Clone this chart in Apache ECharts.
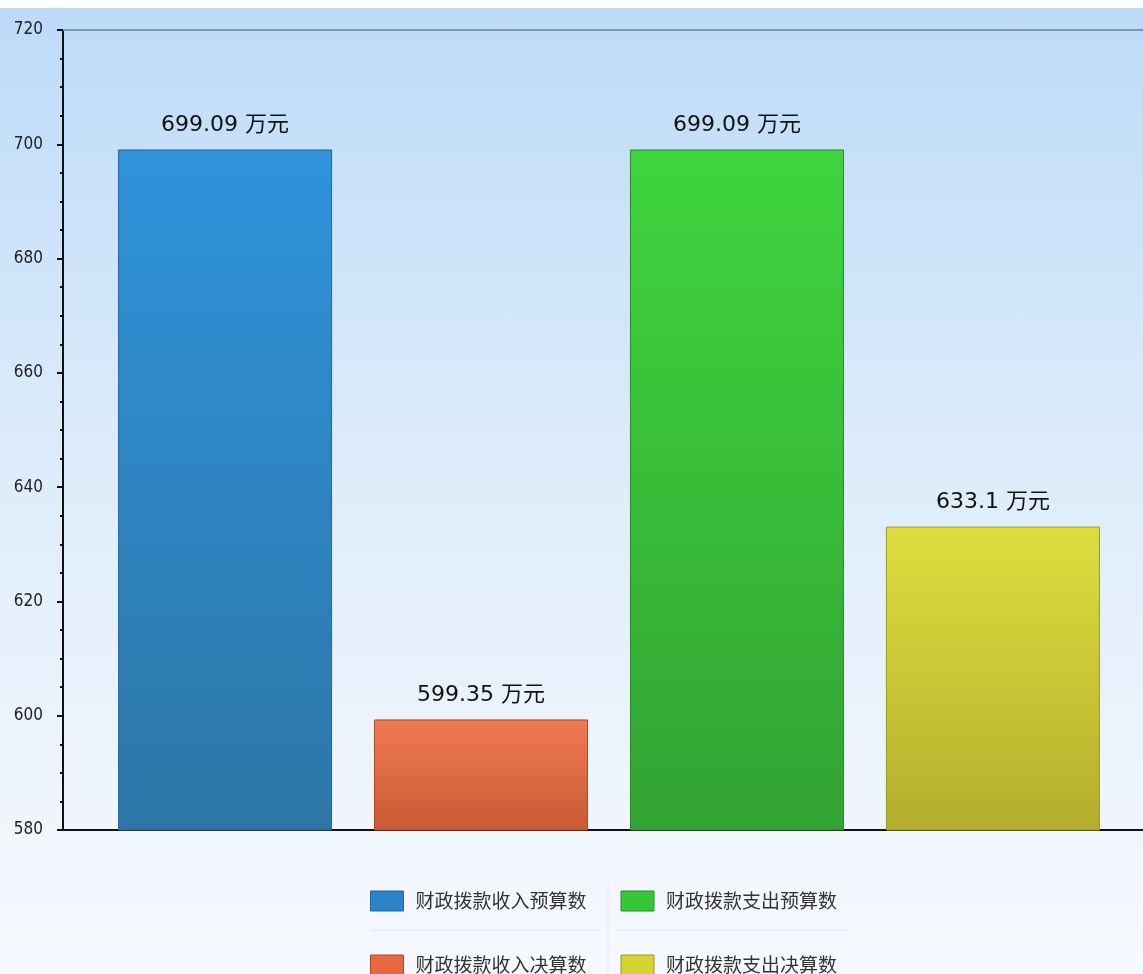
<!DOCTYPE html>
<html lang="zh">
<head>
    <meta charset="UTF-8">
    <script src="https://cdn.jsdelivr.net/npm/echarts@6/dist/echarts.min.js"></script>
    <title>财政拨款</title>
    <style>
        html, body { margin: 0; padding: 0; background: #fff; }
        #main {
            width: 1143px; height: 966px; margin-top: 8px;
            background: linear-gradient(to bottom, #bcdbf8 0%, #dcebfa 45%, #f1f6fd 85%, #f6f9fe 100%);
        }
    </style>
</head>
<body>
    <div id="main"></div>
</body>
</html>
<script type="text/javascript">
    // 数据
    var seriesNames = ['财政拨款收入预算数', '财政拨款收入决算数', '财政拨款支出预算数', '财政拨款支出决算数'];
    var seriesValues = [699.09, 599.35, 699.09, 633.1];
    var legendOrder = ['财政拨款收入预算数', '财政拨款支出预算数', '财政拨款收入决算数', '财政拨款支出决算数'];
    var yMin = 580, yMax = 720, yStep = 20;

    // 顶部色, 底部色, 边框色, 图例色
    var colors = [
        ['#2f93db', '#2d76a7', '#25659a', '#2b83c9'],
        ['#f17a52', '#c95a33', '#b04a28', '#e8683f'],
        ['#3fd53f', '#32a332', '#2a8a2a', '#36c736'],
        ['#dede3e', '#b3ae2c', '#9c9824', '#d6d434']
    ];

    var chart = echarts.init(document.getElementById('main'));

    var series = [];
    for (var i = 0; i < seriesNames.length; i++) {
        series.push({
            name: seriesNames[i],
            type: 'bar',
            data: [seriesValues[i]],
            barWidth: 214,
            barGap: '19.6%',
            itemStyle: {
                color: new echarts.graphic.LinearGradient(0, 0, 0, 1, [
                    { offset: 0, color: colors[i][0] },
                    { offset: 1, color: colors[i][1] }
                ]),
                borderColor: colors[i][2],
                borderWidth: 1
            },
            label: {
                show: true,
                position: 'top',
                distance: 13,
                formatter: '{c} 万元',
                color: '#111',
                fontSize: 22,
                fontFamily: 'DejaVu Sans, Noto Sans CJK SC'
            }
        });
    }

    var legendData = legendOrder.map(function (name) {
        var c = colors[seriesNames.indexOf(name)];
        return { name: name, itemStyle: { color: c[3], borderColor: c[2], borderWidth: 1 } };
    });

    var option = {
        animation: false,
        grid: { left: 63, top: 22, width: 1092, bottom: 144, outerBoundsMode: 'none' },
        legend: {
            data: legendData,
            left: 370,
            top: 878,
            width: 520,
            padding: 0,
            itemGap: 34,
            itemWidth: 33,
            itemHeight: 20,
            icon: 'rect',
            textStyle: {
                fontSize: 19,
                fontFamily: 'Noto Sans CJK SC',
                color: '#333',
                lineHeight: 30,
                padding: [0, 0, 0, 7]
            }
        },
        xAxis: [{
            type: 'category',
            data: [''],
            axisLine: { lineStyle: { color: '#111', width: 2 } },
            axisTick: { show: false },
            axisLabel: { show: false }
        }, {
            type: 'category',
            position: 'top',
            data: [''],
            axisLine: { lineStyle: { color: '#7d97b1', width: 2 } },
            axisTick: { show: false },
            axisLabel: { show: false }
        }],
        yAxis: {
            type: 'value',
            min: yMin,
            max: yMax,
            interval: yStep,
            axisLine: { show: true, lineStyle: { color: '#111', width: 2 } },
            axisTick: { show: true, length: 6, lineStyle: { color: '#111', width: 2 } },
            minorTick: { show: true, splitNumber: 4, length: 3, lineStyle: { color: '#111', width: 2 } },
            splitLine: { show: false },
            axisLabel: {
                color: '#222',
                fontSize: 17,
                fontFamily: 'DejaVu Sans Condensed',
                margin: 20
            }
        },
        graphic: [
            { type: 'line', shape: { x1: 370, y1: 922, x2: 600, y2: 922 }, style: { stroke: '#e3eaf2', lineWidth: 1 } },
            { type: 'line', shape: { x1: 616, y1: 922, x2: 848, y2: 922 }, style: { stroke: '#e3eaf2', lineWidth: 1 } },
            { type: 'line', shape: { x1: 608, y1: 878, x2: 608, y2: 966 }, style: { stroke: '#e3eaf2', lineWidth: 1 } }
        ],
        series: series
    };

    chart.setOption(option);
</script>
